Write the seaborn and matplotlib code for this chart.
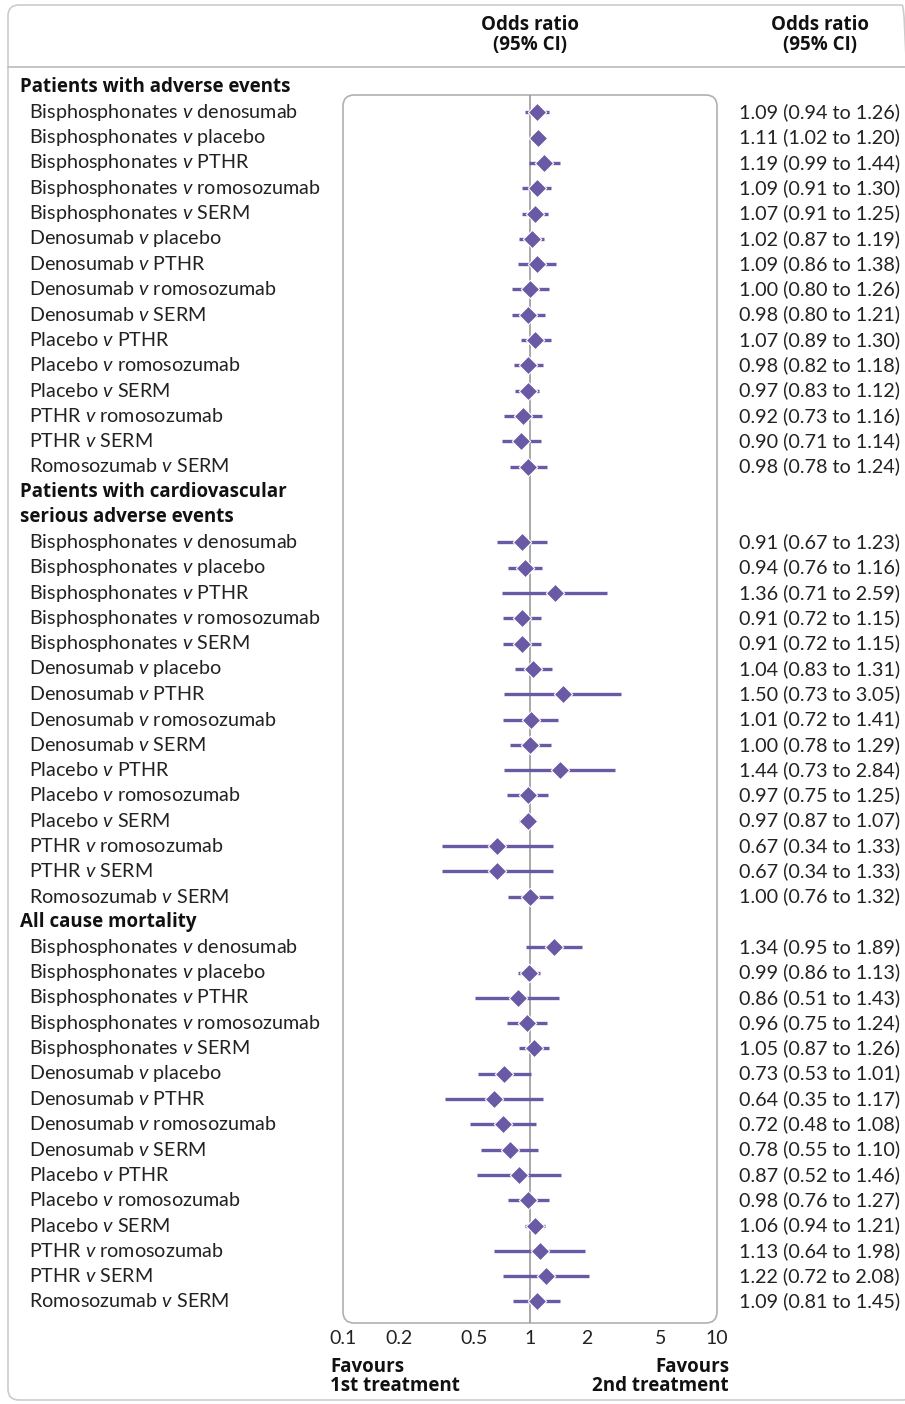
import numpy as np
import pandas as pd
import matplotlib
matplotlib.use("Agg")
import matplotlib.pyplot as plt
import seaborn as sns
from matplotlib.patches import FancyBboxPatch
from matplotlib.lines import Line2D
import matplotlib.transforms as mtransforms

sns.set_theme(style="white")
plt.rcParams["font.family"] = ["Lato", "DejaVu Sans"]
plt.rcParams["mathtext.fontset"] = "custom"
plt.rcParams["mathtext.it"] = "Lato:italic"
plt.rcParams["mathtext.rm"] = "Lato"

# 数据
comparisons = [
    ("Bisphosphonates", "denosumab"), ("Bisphosphonates", "placebo"),
    ("Bisphosphonates", "PTHR"), ("Bisphosphonates", "romosozumab"),
    ("Bisphosphonates", "SERM"), ("Denosumab", "placebo"),
    ("Denosumab", "PTHR"), ("Denosumab", "romosozumab"),
    ("Denosumab", "SERM"), ("Placebo", "PTHR"),
    ("Placebo", "romosozumab"), ("Placebo", "SERM"),
    ("PTHR", "romosozumab"), ("PTHR", "SERM"), ("Romosozumab", "SERM"),
]
sections = ["Patients with adverse events",
            "Patients with cardiovascular\nserious adverse events",
            "All cause mortality"]

or_ae = [1.09, 1.11, 1.19, 1.09, 1.07, 1.02, 1.09, 1.00, 0.98, 1.07, 0.98, 0.97, 0.92, 0.90, 0.98]
lo_ae = [0.94, 1.02, 0.99, 0.91, 0.91, 0.87, 0.86, 0.80, 0.80, 0.89, 0.82, 0.83, 0.73, 0.71, 0.78]
hi_ae = [1.26, 1.20, 1.44, 1.30, 1.25, 1.19, 1.38, 1.26, 1.21, 1.30, 1.18, 1.12, 1.16, 1.14, 1.24]

or_cv = [0.91, 0.94, 1.36, 0.91, 0.91, 1.04, 1.50, 1.01, 1.00, 1.44, 0.97, 0.97, 0.67, 0.67, 1.00]
lo_cv = [0.67, 0.76, 0.71, 0.72, 0.72, 0.83, 0.73, 0.72, 0.78, 0.73, 0.75, 0.87, 0.34, 0.34, 0.76]
hi_cv = [1.23, 1.16, 2.59, 1.15, 1.15, 1.31, 3.05, 1.41, 1.29, 2.84, 1.25, 1.07, 1.33, 1.33, 1.32]

or_mort = [1.34, 0.99, 0.86, 0.96, 1.05, 0.73, 0.64, 0.72, 0.78, 0.87, 0.98, 1.06, 1.13, 1.22, 1.09]
lo_mort = [0.95, 0.86, 0.51, 0.75, 0.87, 0.53, 0.35, 0.48, 0.55, 0.52, 0.76, 0.94, 0.64, 0.72, 0.81]
hi_mort = [1.89, 1.13, 1.43, 1.24, 1.26, 1.01, 1.17, 1.08, 1.10, 1.46, 1.27, 1.21, 1.98, 2.08, 1.45]

tick_vals = [0.1, 0.2, 0.5, 1, 2, 5, 10]
tick_labels = ["0.1", "0.2", "0.5", "1", "2", "5", "10"]

purple = "#6a5aa6"

# 行位置：每个部分标题占行
rows = []
header_rows = []
k = 0
for sec, o, l, h in zip(sections, [or_ae, or_cv, or_mort], [lo_ae, lo_cv, lo_mort], [hi_ae, hi_cv, hi_mort]):
    header_rows.append((k, sec))
    k += sec.count("\n") + 1
    for (a, b), oi, li, hi in zip(comparisons, o, l, h):
        rows.append(dict(y=k, first=a, second=b, OR=oi, lo=li, hi=hi))
        k += 1
df = pd.DataFrame(rows)

W, H = 905, 1404
fig = plt.figure(figsize=(W / 100, H / 100), dpi=100)

# 面板位置（像素）
px_l, px_r, px_t, px_b = 343, 717, 95, 1323
y0, dy = 87, 25.3
ax = fig.add_axes([px_l / W, 1 - px_b / H, (px_r - px_l) / W, (px_b - px_t) / H])
ax.set_xscale("log")
ax.set_xlim(0.1, 10)
ax.set_ylim((px_b - y0) / dy, (px_t - y0) / dy)
for s in ax.spines.values():
    s.set_visible(False)
ax.patch.set_alpha(0)

panel = FancyBboxPatch((0, 0), 1, 1, boxstyle="round,pad=0,rounding_size=0.03",
                       transform=ax.transAxes, facecolor="none", edgecolor="#b0b0b0",
                       lw=1.2, mutation_aspect=(px_r - px_l) / (px_b - px_t), clip_on=False)
ax.add_patch(panel)
ax.axvline(1, color="#999999", lw=1.2, zorder=1)

ax.hlines(df["y"], df["lo"], df["hi"], color=purple, lw=2.4, zorder=2)
sns.scatterplot(data=df, x="OR", y="y", marker="D", s=88, color=purple,
                edgecolor="white", linewidth=0.8, zorder=3, ax=ax, legend=False)

ax.set_xticks(tick_vals)
ax.set_xticklabels(tick_labels, fontsize=14, color="#222222")
ax.set_xticks([0.2, 0.5, 2, 5], minor=True)
ax.tick_params(axis="x", which="major", length=0, pad=5)
ax.tick_params(axis="x", which="minor", direction="in", length=6, color="#999999", width=1.2, bottom=True)
ax.set_yticks([])
ax.set_xlabel("")
ax.set_ylabel("")

# 文本
tr_lab = mtransforms.blended_transform_factory(fig.transFigure, ax.transData)
fs = 14.2
bold_font = ["Open Sans", "DejaVu Sans"]
fb = 13.5
for _, r in df.iterrows():
    ax.text(29 / W, r["y"], r["first"] + r" $\mathit{v}$ " + r["second"], transform=tr_lab,
            ha="left", va="center", fontsize=fs, color="#222222", clip_on=False)
    ax.text(900 / W, r["y"], f"{r['OR']:.2f} ({r['lo']:.2f} to {r['hi']:.2f})", transform=tr_lab,
            ha="right", va="center", fontsize=fs, color="#222222", clip_on=False)
for hk, sec in header_rows:
    for j, line in enumerate(sec.split("\n")):
        ax.text(20 / W, hk + j, line, transform=tr_lab, ha="left", va="center", family=bold_font,
                fontsize=fb, fontweight="bold", color="#111111", clip_on=False)

for xc in (530, 820):
    fig.text(xc / W, 1 - 25 / H, "Odds ratio", ha="center", va="center", family=bold_font,
             fontsize=fb, fontweight="bold", color="#111111")
    fig.text(xc / W, 1 - 45 / H, "(95% CI)", ha="center", va="center", family=bold_font,
             fontsize=fb, fontweight="bold", color="#111111")

for txt, yy in (("Favours", 1367), ("1st treatment", 1386)):
    fig.text(330 / W, 1 - yy / H, txt, ha="left", va="center", family=bold_font,
             fontsize=fb, fontweight="bold", color="#111111")
for txt, yy in (("Favours", 1367), ("2nd treatment", 1386)):
    fig.text(729 / W, 1 - yy / H, txt, ha="right", va="center", family=bold_font,
             fontsize=fb, fontweight="bold", color="#111111")

# 外框和表头分隔线
outer = FancyBboxPatch((8 / W, 1 - 1400 / H), 1.0, (1400 - 5) / H,
                       boxstyle="round,pad=0,rounding_size=0.012", transform=fig.transFigure,
                       facecolor="none", edgecolor="#cccccc", lw=1.2, mutation_aspect=W / H)
fig.patches.append(outer)
fig.lines.append(Line2D([8 / W, 1], [1 - 67 / H, 1 - 67 / H], transform=fig.transFigure,
                        color="#bbbbbb", lw=1.2))

fig.savefig("out.png", dpi=100)
